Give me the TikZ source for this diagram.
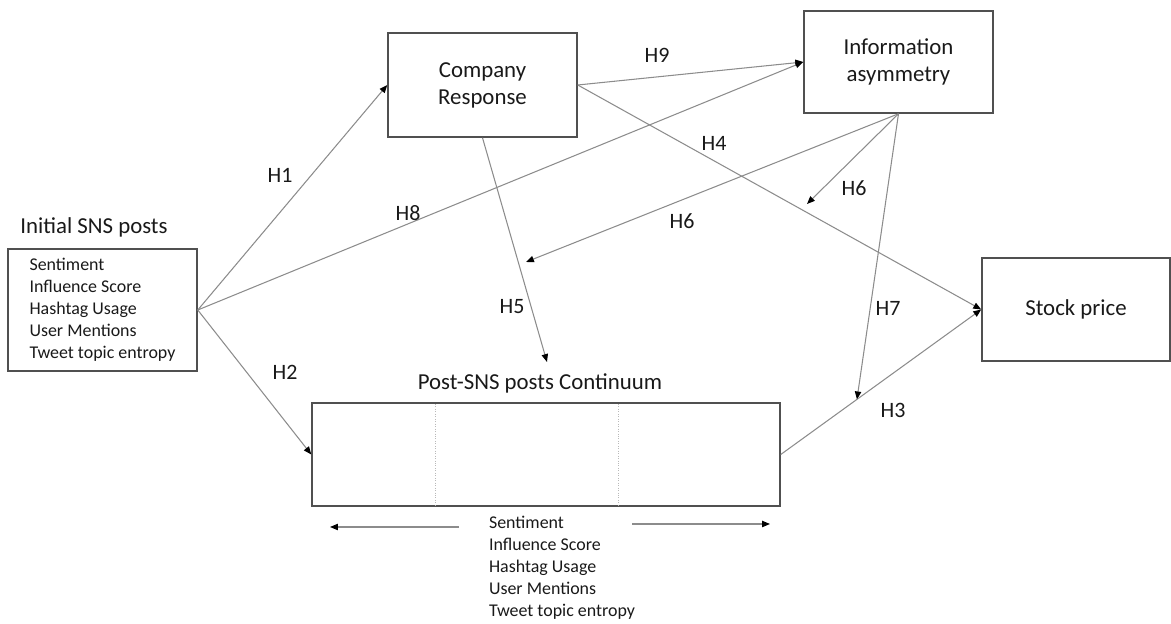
\documentclass[tikz,border=0pt]{standalone}
\usepackage{fontspec}
\setmainfont{Carlito}
\usetikzlibrary{arrows.meta}
\definecolor{boxcolor}{RGB}{80, 80, 80}
\definecolor{linkcolor}{RGB}{140, 140, 140}
\definecolor{labelcolor}{RGB}{25, 25, 25}

\begin{document}
\begin{tikzpicture}[x=0.02cm, y=-0.02cm,
    box/.style={draw=boxcolor, line width=0.9pt, inner sep=0pt, align=center, text=labelcolor, font=\fontsize{13}{15.3}\selectfont},
    link/.style={draw=linkcolor, line width=0.6pt, -{Triangle[length=4.5pt, width=3.6pt, color=black]}},
    hlab/.style={text=labelcolor, font=\fontsize{12.5}{15}\selectfont},
    vars/.style={align=left, text=labelcolor, font=\fontsize{10.2}{12.5}\selectfont}]
  \useasboundingbox (0,0) rectangle (1171,624);
  \node[box, vars, minimum width=3.78cm, minimum height=2.44cm] (init) at (102.5,310)
        {Sentiment\\Influence Score\\Hashtag Usage\\User Mentions\\Tweet topic entropy};
  \node[hlab, font=\fontsize{13}{15}\selectfont] (inittitle) at (94,227) {Initial SNS posts};
  \node[box, minimum width=3.78cm, minimum height=2.08cm] (cr) at (482.5,85) {Company\\Response};
  \node[box, minimum width=3.78cm, minimum height=2.04cm] (ia) at (898.5,62) {Information\\asymmetry};
  \node[box, minimum width=3.76cm, minimum height=2.06cm] (sp) at (1076,309.5) {Stock price};
  \node[box, minimum width=9.36cm, minimum height=2.06cm] (post) at (546,454.5) {};
  \node[hlab, font=\fontsize{13}{15}\selectfont] (posttitle) at (540,383) {Post-SNS posts Continuum};
  \node[vars] (postvars) at (562,568)
        {Sentiment\\Influence Score\\Hashtag Usage\\User Mentions\\Tweet topic entropy};
  \draw[densely dotted, gray!55] (435,404) -- (435,505);
  \draw[densely dotted, gray!55] (618,404) -- (618,505);

  \coordinate (h5end) at (547,362);
  \coordinate (h6end) at (526,262);
  \coordinate (h6mod) at (807,204);
  \path (post.east) -- (sp.west) coordinate[pos=0.38] (h7end);
  \coordinate (leftstart) at (459,527);
  \coordinate (leftend) at (330,527);
  \coordinate (rightstart) at (632,524);
  \coordinate (rightend) at (770,524);

  \draw[link] (init.east) -- (cr.west);
  \draw[link] (init.east) -- (ia.west);
  \draw[link] (init.east) -- (post.west);
  \draw[link] (cr.east) -- (ia.west);
  \draw[link] (cr.east) -- (sp.west);
  \draw[link] (post.east) -- (sp.west);
  \draw[link] (cr.south) -- (h5end);
  \draw[link] (ia.south) -- (h6end);
  \draw[link] (ia.south) -- (h6mod);
  \draw[link] (ia.south) -- (h7end);
  \draw[link] (leftstart) -- (leftend);
  \draw[link] (rightstart) -- (rightend);

  \node[hlab] (lh1) at (280,175) {H1};
  \node[hlab] (lh2) at (285,372) {H2};
  \node[hlab] (lh3) at (893,410) {H3};
  \node[hlab] (lh4) at (714,143) {H4};
  \node[hlab] (lh5) at (512,307) {H5};
  \node[hlab] (lh6a) at (682,221) {H6};
  \node[hlab] (lh6b) at (854,188) {H6};
  \node[hlab] (lh7) at (888,308) {H7};
  \node[hlab] (lh8) at (408,213) {H8};
  \node[hlab] (lh9) at (657,55) {H9};
\end{tikzpicture}
\end{document}
